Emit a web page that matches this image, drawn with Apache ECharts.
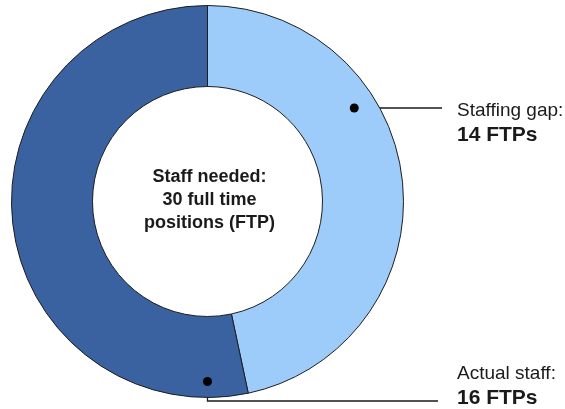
<!DOCTYPE html>
<html>
<head>
<meta charset="utf-8">
<script src="https://cdn.jsdelivr.net/npm/echarts@6/dist/echarts.min.js"></script>
<style>
html,body{margin:0;padding:0;background:#fff;}
#main{width:565px;height:409px;}
</style>
</head>
<body>
<div id="main"></div>
<script>
// ---- data ----
var categories = ['Staffing gap', 'Actual staff'];
var values = [14, 16];
var valueLabels = ['14 FTPs', '16 FTPs'];
var centerLines = ['Staff needed:', '30 full time', 'positions (FTP)'];

// ---- layout constants ----
var CX = 207.5, CY = 201.5, R_OUT = 196, R_IN = 115;
var colors = ['#9DCCFA', '#3A62A0'];
// annotation anchor (angle clockwise from top in degrees, radius in px)
var anchors = [{ang: 57.5, r: 174}, {ang: 180, r: 180}];
var TEXT_X = 457;

function polar(a) {
  var rad = a.ang * Math.PI / 180;
  return [CX + a.r * Math.sin(rad), CY - a.r * Math.cos(rad)];
}
var dots = anchors.map(polar);

var chart = echarts.init(document.getElementById('main'), null, {renderer: 'canvas'});

var pieData = categories.map(function (c, i) {
  return {name: c, value: values[i], itemStyle: {color: colors[i]}};
});

var option = {
  backgroundColor: '#ffffff',
  animation: false,
  series: [{
    type: 'pie',
    center: [CX, CY],
    radius: [R_IN, R_OUT],
    startAngle: 90,
    clockwise: true,
    silent: true,
    avoidLabelOverlap: false,
    itemStyle: {borderColor: '#1e1e1e', borderWidth: 1},
    data: pieData,
    label: {
      show: true,
      position: 'outside',
      width: 120,
      overflow: 'none',
      formatter: function (p) {
        return '{a|' + p.name + ':}\n{b|' + valueLabels[p.dataIndex] + '}';
      },
      rich: {
        a: {fontFamily: 'Liberation Sans, Arial, sans-serif', fontSize: 19, color: '#1a1a1a', lineHeight: 24, align: 'left'},
        b: {fontFamily: 'Liberation Sans, Arial, sans-serif', fontSize: 21, fontWeight: 'bold', color: '#1a1a1a', lineHeight: 24, align: 'left'}
      }
    },
    labelLine: {show: true, lineStyle: {color: '#1a1a1a', width: 1.3}},
    labelLayout: function (params) {
      var i = params.dataIndex;
      var d = dots[i];
      if (i === 0) {
        return {
          x: TEXT_X, y: 99, align: 'left', verticalAlign: 'top',
          labelLinePoints: [[d[0], d[1]], [d[0] + 40, d[1]], [442, d[1]]]
        };
      } else {
        return {
          x: TEXT_X, y: 362, align: 'left', verticalAlign: 'top',
          labelLinePoints: [[d[0], d[1]], [d[0], 401], [438, 401]]
        };
      }
    }
  }],
  graphic: [
    {type: 'circle', shape: {cx: dots[0][0], cy: dots[0][1], r: 4.5}, style: {fill: '#000'}, z: 100},
    {type: 'circle', shape: {cx: dots[1][0], cy: dots[1][1], r: 4.5}, style: {fill: '#000'}, z: 100},
    {
      type: 'text', x: CX + 2, y: CY - 1.5, z: 100,
      style: {
        text: centerLines.join('\n'),
        fontFamily: 'Liberation Sans, Arial, sans-serif',
        fontSize: 18, fontWeight: 'bold', fill: '#1a1a1a',
        lineHeight: 23, align: 'center', verticalAlign: 'middle'
      }
    }
  ]
};
chart.setOption(option);
</script>
</body>
</html>
